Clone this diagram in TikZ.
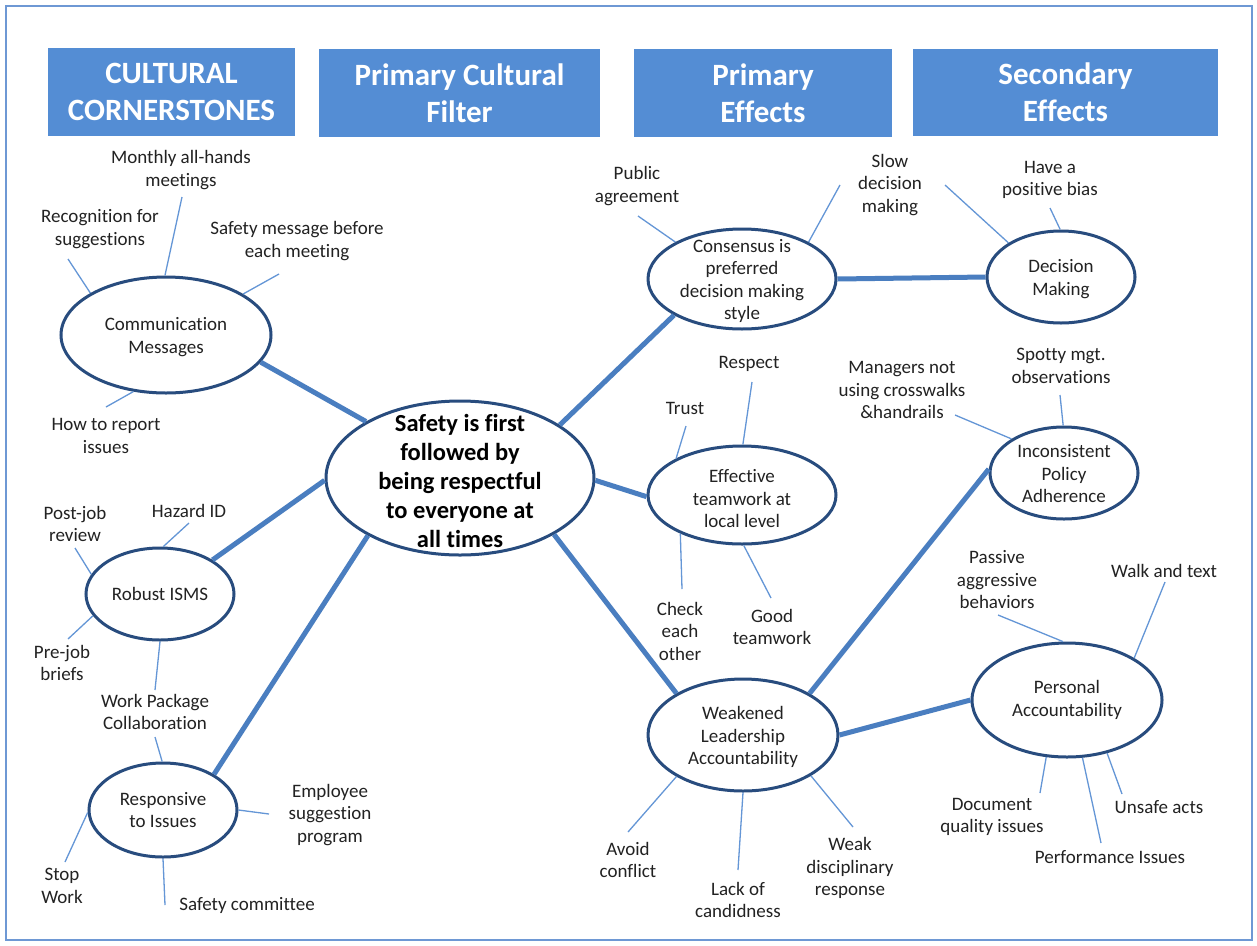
\documentclass[tikz,border=0pt]{standalone}
\usepackage{fontspec}
\setmainfont{Carlito}[Ligatures={NoCommon,NoRare}]
\usetikzlibrary{shapes.geometric}
\definecolor{framecol}{RGB}{110,152,212}
\definecolor{hdrblue}{RGB}{84,141,212}
\definecolor{ringblue}{RGB}{40,76,126}
\definecolor{trunkblue}{RGB}{74,126,192}
\definecolor{twigblue}{RGB}{100,150,214}
\definecolor{ink}{RGB}{34,34,34}
\begin{document}
\begin{tikzpicture}[x=1pt,y=-1pt,
  hdr/.style={rectangle, fill=hdrblue, draw=none, text=white, align=center, inner sep=0pt,
              font=\fontsize{31}{37}\selectfont\bfseries},
  bub/.style={ellipse, draw=ringblue, line width=3pt, fill=white, inner sep=0pt},
  btext/.style={font=\fontsize{19}{22.5}\selectfont, text=ink, align=center, inner sep=0pt},
  lbl/.style={font=\fontsize{19}{22.5}\selectfont, text=ink, align=center, inner sep=0pt},
  trunk/.style={draw=trunkblue, line width=5pt},
  twig/.style={draw=twigblue, line width=1.3pt},
]
\useasboundingbox (0,0) rectangle (1257,945);
\fill[white] (0,0) rectangle (1257,945);
\draw[framecol, line width=2pt] (6,6) rectangle (1252,940);

% column headers
\node[hdr, minimum width=247pt, minimum height=88pt] (h1) at (171.5,92) {CULTURAL\\CORNERSTONES};
\node[hdr, minimum width=281pt, minimum height=88pt] (h2) at (459.5,93) {Primary Cultural\\Filter};
\node[hdr, minimum width=258pt, minimum height=88pt] (h3) at (763,93) {Primary\\Effects};
\node[hdr, minimum width=305pt, minimum height=87pt] (h4) at (1065.5,92.5) {Secondary\\Effects};

% bubbles
\node[bub, minimum width=268pt, minimum height=154pt] (core) at (460,478) {};
\node[bub, minimum width=210pt, minimum height=116pt] (comm) at (166,335) {};
\node[bub, minimum width=148pt, minimum height=92pt]  (isms) at (160,594) {};
\node[bub, minimum width=148pt, minimum height=94pt]  (resp) at (163,810) {};
\node[bub, minimum width=188pt, minimum height=100pt] (cons) at (742,279) {};
\node[bub, minimum width=188pt, minimum height=98pt]  (team) at (742,495) {};
\node[bub, minimum width=190pt, minimum height=112pt] (weak) at (743,735) {};
\node[bub, minimum width=148pt, minimum height=92pt]  (dec)  at (1061,277) {};
\node[bub, minimum width=148pt, minimum height=92pt]  (pol)  at (1064,473) {};
\node[bub, minimum width=190pt, minimum height=114pt] (pers) at (1067,700) {};

% bubble texts
\node[btext, font=\fontsize{24.5}{29}\selectfont\bfseries, text=black] (core-t) at (460,481)
  {Safety is first\\followed by\\being respectful\\to everyone at\\all times};
\node[btext] (comm-t) at (166,337) {Communication\\Messages};
\node[btext] (isms-t) at (160,594) {Robust ISMS};
\node[btext] (resp-t) at (163,810) {Responsive\\to Issues};
\node[btext] (cons-t) at (742,281) {Consensus is\\preferred\\decision making\\style};
\node[btext] (team-t) at (742,499) {Effective\\teamwork at\\local level};
\node[btext] (weak-t) at (743,737) {Weakened\\Leadership\\Accountability};
\node[btext] (dec-t)  at (1061,279) {Decision\\Making};
\node[btext] (pol-t)  at (1064,474) {Inconsistent\\Policy\\Adherence};
\node[btext] (pers-t) at (1067,700) {Personal\\Accountability};

% main branches
\draw[trunk] (core.149.4) -- (comm.-16.4);
\draw[trunk] (core.181.7) -- (isms.33.4);
\draw[trunk] (core.212.8) -- (resp.35.4);
\draw[trunk] (core.28.3) -- (cons.208.3);
\draw[trunk] (core.-1.6) -- (team.181);
\draw[trunk] (core.-31.9) -- (weak.148.3);
\draw[trunk] (cons.east) -- (dec.west);
\draw[trunk] (weak.32) -- (pol.177.6);
\draw[trunk] (weak.east) -- (pers.west);

% leaf labels
\node[lbl] (l-monthly) at (181,170) {Monthly all-hands\\meetings};
\node[lbl] (l-recog)   at (100,229) {Recognition for\\suggestions};
\node[lbl] (l-safemsg) at (297,241) {Safety message before\\each meeting};
\node[lbl] (l-howto)   at (106,436) {How to report\\issues};
\node[lbl] (l-post)    at (75,524) {Post-job\\review};
\node[lbl] (l-hazard)  at (189,511) {Hazard ID};
\node[lbl] (l-pre)     at (62,663) {Pre-job\\briefs};
\node[lbl] (l-wp)      at (155,712) {Work Package\\Collaboration};
\node[lbl] (l-emp)     at (330,815) {Employee\\suggestion\\program};
\node[lbl] (l-stop)    at (62,886) {Stop\\Work};
\node[lbl] (l-safecom) at (247,905) {Safety committee};
\node[lbl] (l-public)  at (637,186) {Public\\agreement};
\node[lbl] (l-slow)    at (890,185) {Slow\\decision\\making};
\node[lbl] (l-bias)    at (1050,180) {Have a\\positive bias};
\node[lbl] (l-respect) at (749,364) {Respect};
\node[lbl] (l-trust)   at (685,408) {Trust};
\node[lbl] (l-mgr)     at (902,390) {Managers not\\using crosswalks\\\&handrails};
\node[lbl] (l-spotty)  at (1061,366) {Spotty mgt.\\observations};
\node[lbl] (l-check)   at (680,631) {Check\\each\\other};
\node[lbl] (l-good)    at (772,627) {Good\\teamwork};
\node[lbl] (l-passive) at (997,580) {Passive\\aggressive\\behaviors};
\node[lbl] (l-walk)    at (1164,571) {Walk and text};
\node[lbl] (l-doc)     at (992,817) {Document\\quality issues};
\node[lbl] (l-unsafe)  at (1159,807) {Unsafe acts};
\node[lbl] (l-perf)    at (1110,857) {Performance Issues};
\node[lbl] (l-avoid)   at (628,860) {Avoid\\conflict};
\node[lbl] (l-lack)    at (738,900) {Lack of\\candidness};
\node[lbl] (l-weakd)   at (850,868) {Weak\\disciplinary\\response};

% free ends of the leaf connectors
\coordinate (e-monthly) at (182,197);
\coordinate (e-recog)   at (68,259);
\coordinate (e-safemsg) at (279,274);
\coordinate (e-howto)   at (106,407);
\coordinate (e-hazard)  at (189,523);
\coordinate (e-post)    at (75,548);
\coordinate (e-pre)     at (68,639);
\coordinate (e-wp1)     at (155,690);
\coordinate (e-wp2)     at (155,737);
\coordinate (e-emp)     at (269,814);
\coordinate (e-stop)    at (65,862);
\coordinate (e-safecom) at (165,905);
\coordinate (e-public)  at (638,216);
\coordinate (e-slow1)   at (840,185);
\coordinate (e-slow2)   at (945,185);
\coordinate (e-bias)    at (1050,208);
\coordinate (e-respect) at (752,382);
\coordinate (e-trust)   at (686,426);
\coordinate (e-check)   at (682,589);
\coordinate (e-good)    at (771,598);
\coordinate (e-avoid)   at (628,832);
\coordinate (e-lack)    at (738,870);
\coordinate (e-weakd)   at (853,827);
\coordinate (e-mgr)     at (955,415);
\coordinate (e-spotty)  at (1060,395);
\coordinate (e-passive) at (998,615);
\coordinate (e-walk)    at (1165,582);
\coordinate (e-doc)     at (1040,793);
\coordinate (e-perf)    at (1101,843);
\coordinate (e-unsafe)  at (1122,794);

% leaf connectors
\draw[twig] (comm.91) -- (e-monthly);
\draw[twig] (comm.151.1) -- (e-recog);
\draw[twig] (comm.28.9) -- (e-safemsg);
\draw[twig] (comm.240.8) -- (e-howto);
\draw[twig] (isms.86.3) -- (e-hazard);
\draw[twig] (isms.164.6) -- (e-post);
\draw[twig] (isms.198.7) -- (e-pre);
\draw[twig] (isms.270) -- (e-wp1);
\draw[twig] (resp.91) -- (e-wp2);
\draw[twig] (resp.0) -- (e-emp);
\draw[twig] (resp.182) -- (e-stop);
\draw[twig] (resp.270) -- (e-safecom);
\draw[twig] (cons.151.8) -- (e-public);
\draw[twig] (cons.29.6) -- (e-slow1);
\draw[twig] (dec.147.8) -- (e-slow2);
\draw[twig] (dec.91) -- (e-bias);
\draw[twig] (team.89) -- (e-respect);
\draw[twig] (team.151.7) -- (e-trust);
\draw[twig] (team.212.9) -- (e-check);
\draw[twig] (team.272) -- (e-good);
\draw[twig] (weak.212.3) -- (e-avoid);
\draw[twig] (weak.270) -- (e-lack);
\draw[twig] (weak.-31.9) -- (e-weakd);
\draw[twig] (pol.147) -- (e-mgr);
\draw[twig] (pol.91) -- (e-spotty);
\draw[twig] (pers.94) -- (e-passive);
\draw[twig] (pers.32.3) -- (e-walk);
\draw[twig] (pers.250.7) -- (e-doc);
\draw[twig] (pers.285.7) -- (e-perf);
\draw[twig] (pers.307.7) -- (e-unsafe);
\end{tikzpicture}
\end{document}
